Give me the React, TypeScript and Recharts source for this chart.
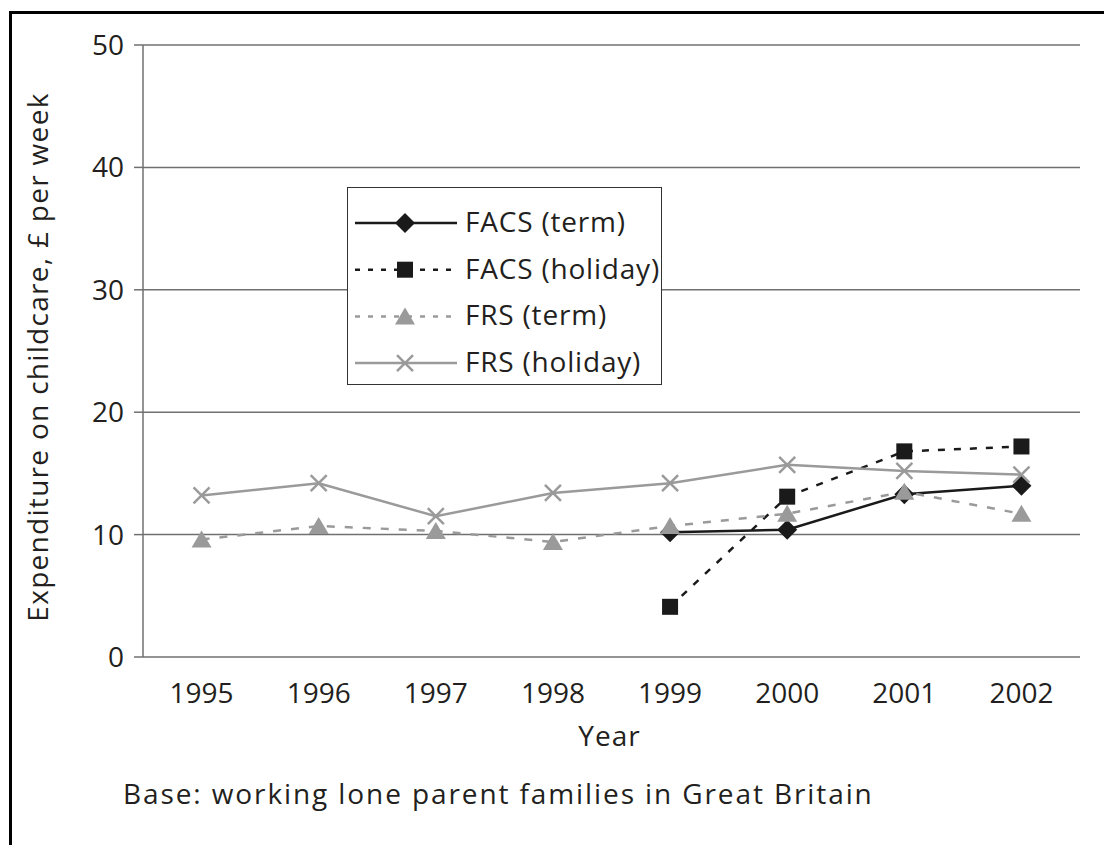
import { CartesianGrid, Label, Legend, Line, LineChart, XAxis, YAxis } from 'recharts';

const years = ['1995', '1996', '1997', '1998', '1999', '2000', '2001', '2002'];
const facsTerm = [null, null, null, null, 10.2, 10.4, 13.3, 14.0];
const facsHoliday = [null, null, null, null, 4.1, 13.1, 16.8, 17.2];
const frsTerm = [9.6, 10.7, 10.3, 9.4, 10.7, 11.7, 13.5, 11.7];
const frsHoliday = [13.2, 14.2, 11.5, 13.4, 14.2, 15.7, 15.2, 14.9];
const yTicks = [0, 10, 20, 30, 40, 50];

const FONT = '"Open Sans", "DejaVu Sans", sans-serif';
const TEXT = '#231f20';
const AXIS = '#707070';
const BLACK = '#1a1a1a';
const GREY = '#9a9a9a';

type Marker = 'diamond' | 'square' | 'triangle' | 'cross';

const series: { key: string; name: string; color: string; dash?: string; marker: Marker }[] = [
  { key: 'facsTerm', name: 'FACS (term)', color: BLACK, marker: 'diamond' },
  { key: 'facsHoliday', name: 'FACS (holiday)', color: BLACK, dash: '7 9', marker: 'square' },
  { key: 'frsTerm', name: 'FRS (term)', color: GREY, dash: '8 10', marker: 'triangle' },
  { key: 'frsHoliday', name: 'FRS (holiday)', color: GREY, marker: 'cross' },
];

// categories sit in the middle of each band; ticks mark the band edges
const data = years.map((year, i) => ({
  x: i + 0.5,
  year,
  facsTerm: facsTerm[i],
  facsHoliday: facsHoliday[i],
  frsTerm: frsTerm[i],
  frsHoliday: frsHoliday[i],
}));
const edgeTicks = years.map((_, i) => i).concat(years.length);
const centreTicks = years.map((_, i) => i + 0.5);

function marker(kind: Marker, cx: number, cy: number, color: string) {
  switch (kind) {
    case 'diamond':
      return <polygon points={`${cx},${cy - 10} ${cx + 10},${cy} ${cx},${cy + 10} ${cx - 10},${cy}`} fill={color} />;
    case 'square':
      return <rect x={cx - 8} y={cy - 8} width={16} height={16} fill={color} />;
    case 'triangle':
      return <polygon points={`${cx},${cy - 9} ${cx + 10},${cy + 8} ${cx - 10},${cy + 8}`} fill={color} />;
    default:
      return (
        <g stroke={color} strokeWidth={2.5}>
          <line x1={cx - 8} y1={cy - 8} x2={cx + 8} y2={cy + 8} />
          <line x1={cx - 8} y1={cy + 8} x2={cx + 8} y2={cy - 8} />
        </g>
      );
  }
}

const dotFor = (kind: Marker, color: string) => (p: any) => (
  <g key={`d-${p.index}`}>{p.cy == null || p.value == null ? null : marker(kind, p.cx, p.cy, color)}</g>
);

const renderLegend = () => (
  <div style={{ width: 315, height: 198, border: '1.5px solid #333', background: '#fff', boxSizing: 'border-box' }}>
    <svg width={312} height={195} style={{ overflow: 'visible' }}>
      {series.map((s, i) => {
        const cy = 35 + i * 46.7;
        return (
          <g key={s.key}>
            <line x1={7} x2={109} y1={cy} y2={cy} stroke={s.color} strokeWidth={2.5} strokeDasharray={s.dash ? '5 8' : undefined} />
            {marker(s.marker, 57, cy, s.color)}
            <text x={117} y={cy + 9} fontSize={28} letterSpacing={0.8} fontFamily={FONT} fill={TEXT}>
              {s.name}
            </text>
          </g>
        );
      })}
    </svg>
  </div>
);

export default function App() {
  return (
    <div style={{ position: 'absolute', left: 0, top: 0, width: 1104, height: 845, background: '#fff', overflow: 'hidden', fontFamily: FONT }}>
      <div style={{ position: 'absolute', left: 9, top: 11, width: 1200, height: 900, borderTop: '3px solid #000', borderLeft: '3px solid #000' }} />
      <LineChart width={1104} height={845} data={data} margin={{ top: 45, right: 24, bottom: 88, left: 0 }}>
        <CartesianGrid horizontal vertical={false} stroke={AXIS} strokeWidth={1.5} />
        <XAxis
          xAxisId={0}
          type="number"
          dataKey="x"
          domain={[0, years.length]}
          ticks={edgeTicks}
          tickFormatter={() => ''}
          height={0}
          tickSize={7}
          stroke={AXIS}
          axisLine={{ stroke: AXIS, strokeWidth: 1.5 }}
          tickLine={{ stroke: AXIS, strokeWidth: 1.5 }}
        />
        <XAxis
          xAxisId={1}
          type="number"
          dataKey="x"
          domain={[0, years.length]}
          ticks={centreTicks}
          tickFormatter={(v: number) => years[Math.floor(v)]}
          height={100}
          tickSize={0}
          tickMargin={26}
          axisLine={false}
          tickLine={false}
          tick={{ fontSize: 28, fill: TEXT, fontFamily: FONT }}
        >
          <Label
            content={({ viewBox }: any) => (
              <text x={viewBox.x + viewBox.width / 2 - 2} y={viewBox.y + 89} textAnchor="middle" fontSize={28} letterSpacing={1} fontFamily={FONT} fill={TEXT}>
                Year
              </text>
            )}
          />
        </XAxis>
        <YAxis
          type="number"
          domain={[0, 50]}
          ticks={yTicks}
          width={143}
          tickSize={9}
          tickMargin={10}
          axisLine={{ stroke: AXIS, strokeWidth: 1.5 }}
          tickLine={{ stroke: AXIS, strokeWidth: 1.5 }}
          tick={{ fontSize: 28, fill: TEXT, fontFamily: FONT }}
        >
          <Label
            content={({ viewBox }: any) => {
              const cx = viewBox.x + 37;
              const cy = viewBox.y + viewBox.height / 2 + 6;
              return (
                <text x={cx} y={cy} transform={`rotate(-90 ${cx} ${cy})`} textAnchor="middle" dominantBaseline="central" fontSize={28} letterSpacing={1.3} fontFamily={FONT} fill={TEXT}>
                  Expenditure on childcare, £ per week
                </text>
              );
            }}
          />
        </YAxis>
        <Legend
          layout="vertical"
          align="center"
          verticalAlign="middle"
          content={renderLegend}
          wrapperStyle={{ position: 'absolute', left: 347, top: 187, width: 315, height: 198 }}
        />
        {series.map((s) => (
          <Line
            key={s.key}
            dataKey={s.key}
            name={s.name}
            type="linear"
            stroke={s.color}
            strokeWidth={2.5}
            strokeDasharray={s.dash}
            dot={dotFor(s.marker, s.color)}
            activeDot={false}
            connectNulls={false}
            isAnimationActive={false}
          />
        ))}
      </LineChart>
      <div style={{ position: 'absolute', left: 123, top: 779, fontSize: 28, lineHeight: '28px', letterSpacing: 1.9, color: TEXT, whiteSpace: 'nowrap' }}>
        Base: working lone parent families in Great Britain
      </div>
    </div>
  );
}
